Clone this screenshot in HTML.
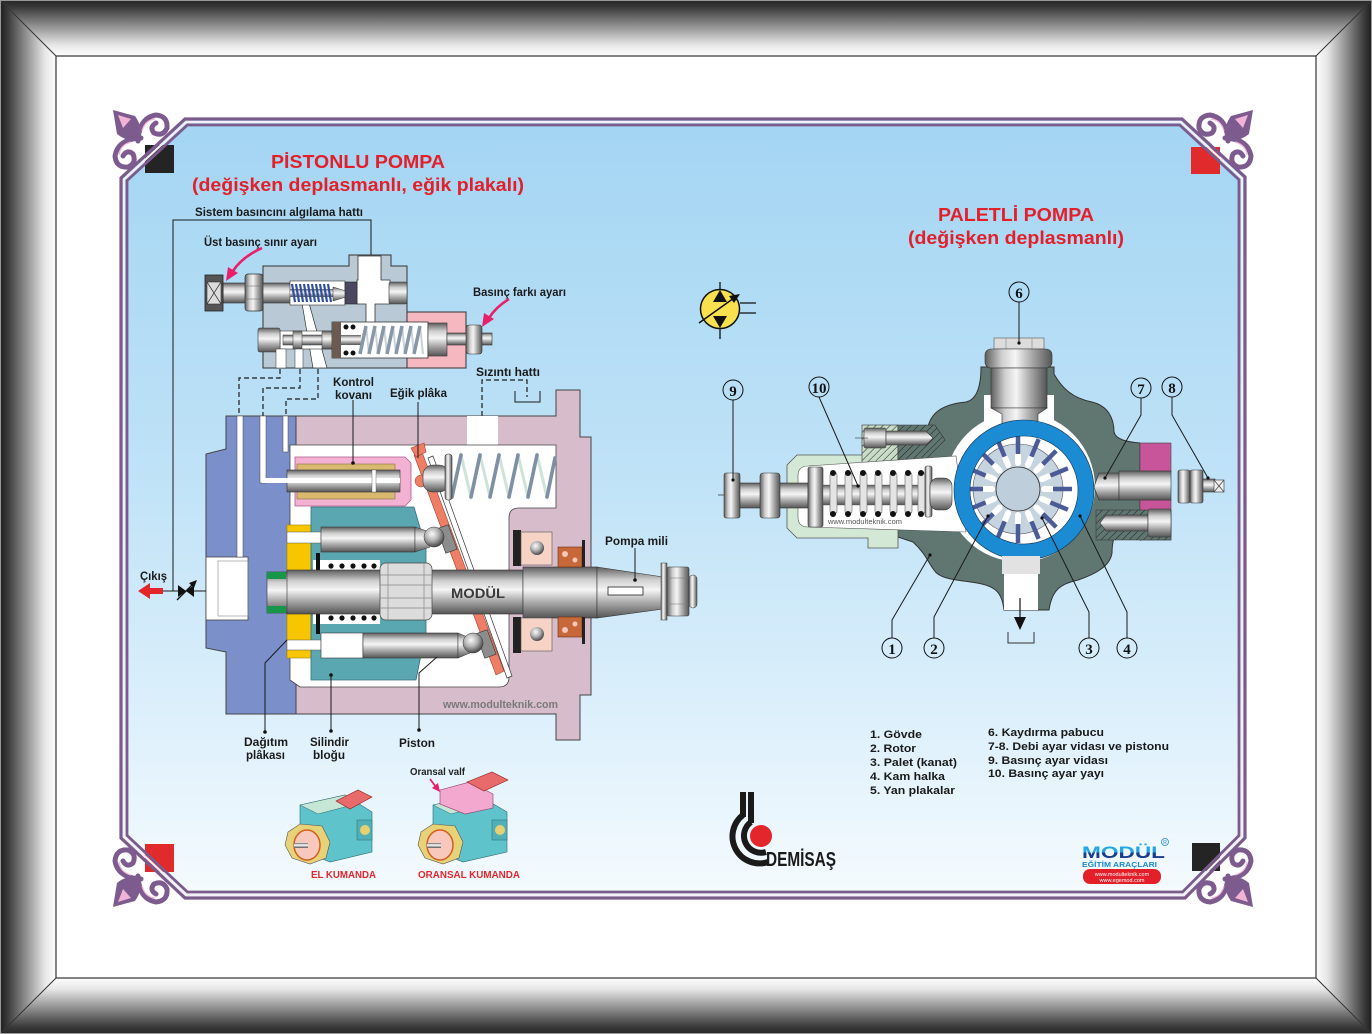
<!DOCTYPE html>
<html><head><meta charset="utf-8">
<style>
html,body{margin:0;padding:0;background:#fff;}
svg{display:block;}
text{font-family:"Liberation Sans",Arial,sans-serif;}
.lb{font-weight:bold;font-size:12px;fill:#1a1a1a;}
.lg{font-weight:bold;font-size:11px;fill:#1a1a1a;}
.num{font-family:"Liberation Serif",serif;font-weight:bold;font-size:15px;fill:#111;}
.ld{stroke:#1a1a1a;stroke-width:1;fill:none;}
.ds{stroke:#1a1a1a;stroke-width:1.2;fill:none;stroke-dasharray:5,3;}
</style></head><body>
<svg width="1372" height="1034" viewBox="0 0 1372 1034">
<defs>
<linearGradient id="gT" gradientUnits="userSpaceOnUse" x1="0" y1="0" x2="0" y2="56"><stop offset="0" stop-color="#262626"/><stop offset=".12" stop-color="#383838"/><stop offset=".45" stop-color="#8c8c8c"/><stop offset=".8" stop-color="#e6e6e6"/><stop offset="1" stop-color="#fdfdfd"/></linearGradient>
<linearGradient id="gB" gradientUnits="userSpaceOnUse" x1="0" y1="1034" x2="0" y2="978"><stop offset="0" stop-color="#262626"/><stop offset=".12" stop-color="#383838"/><stop offset=".45" stop-color="#8c8c8c"/><stop offset=".8" stop-color="#e6e6e6"/><stop offset="1" stop-color="#fdfdfd"/></linearGradient>
<linearGradient id="gL" gradientUnits="userSpaceOnUse" x1="0" y1="0" x2="56" y2="0"><stop offset="0" stop-color="#1e1e1e"/><stop offset=".12" stop-color="#363636"/><stop offset=".45" stop-color="#8c8c8c"/><stop offset=".8" stop-color="#e6e6e6"/><stop offset="1" stop-color="#fdfdfd"/></linearGradient>
<linearGradient id="gR" gradientUnits="userSpaceOnUse" x1="1372" y1="0" x2="1316" y2="0"><stop offset="0" stop-color="#1e1e1e"/><stop offset=".12" stop-color="#363636"/><stop offset=".45" stop-color="#8c8c8c"/><stop offset=".8" stop-color="#e6e6e6"/><stop offset="1" stop-color="#fdfdfd"/></linearGradient>
<linearGradient id="bg" gradientUnits="userSpaceOnUse" x1="0" y1="119" x2="0" y2="898"><stop offset="0" stop-color="#a3d5f3"/><stop offset=".45" stop-color="#bfe2f7"/><stop offset=".75" stop-color="#dbeffb"/><stop offset="1" stop-color="#f5fbfe"/></linearGradient>
<linearGradient id="mv" x1="0" y1="0" x2="0" y2="1"><stop offset="0" stop-color="#5e5e5e"/><stop offset=".25" stop-color="#cfcfcf"/><stop offset=".45" stop-color="#f5f5f5"/><stop offset=".7" stop-color="#a9a9a9"/><stop offset="1" stop-color="#555"/></linearGradient>
<linearGradient id="mh" x1="0" y1="0" x2="1" y2="0"><stop offset="0" stop-color="#5e5e5e"/><stop offset=".25" stop-color="#cfcfcf"/><stop offset=".45" stop-color="#f5f5f5"/><stop offset=".7" stop-color="#a9a9a9"/><stop offset="1" stop-color="#555"/></linearGradient>
<radialGradient id="ball" cx=".4" cy=".35" r=".65"><stop offset="0" stop-color="#fafafa"/><stop offset=".5" stop-color="#b5b5b5"/><stop offset="1" stop-color="#4a4a4a"/></radialGradient>
<linearGradient id="mlogo" x1="0" y1="0" x2="0" y2="1"><stop offset="0" stop-color="#22a6e6"/><stop offset=".5" stop-color="#22a6e6"/><stop offset=".5" stop-color="#1a3c8c"/><stop offset="1" stop-color="#1a3c8c"/></linearGradient>
<pattern id="hatch" width="5" height="5" patternUnits="userSpaceOnUse" patternTransform="rotate(45)"><line x1="0" y1="0" x2="0" y2="5" stroke="#222" stroke-width="1"/></pattern>
<g id="orn">
<path d="M113,110 L135,116 Q143,127 140,139 Q128,143 117,134 Z" fill="#7d5b8e"/>
<path d="M118,115 L131,119 L123,128 Z" fill="#f2b3d9"/>
<path d="M138,141 Q139,118 156,115 Q168,116 167,128 Q163,137 154,133 Q149,127 156,123" fill="none" stroke="#7d5b8e" stroke-width="5" stroke-linecap="round"/>
<path d="M141,138 Q118,139 115,156 Q116,168 128,167 Q137,163 133,154 Q127,149 123,156" fill="none" stroke="#7d5b8e" stroke-width="5" stroke-linecap="round"/>
<path d="M142,131 Q145,120 155,119" fill="none" stroke="#f2b3d9" stroke-width="1.2"/>
<path d="M131,142 Q120,145 119,155" fill="none" stroke="#f2b3d9" stroke-width="1.2"/>
</g>
<g id="vn"><line x1="26" y1="0" x2="34" y2="0" stroke="#fff" stroke-width="6" stroke-linecap="round"/><line x1="35" y1="0" x2="54" y2="0" stroke="#4b5b98" stroke-width="4.5"/></g>
</defs>

<!-- FRAME -->
<rect width="1372" height="1034" fill="#fff"/>
<polygon points="0,0 1372,0 1316,56 56,56" fill="url(#gT)"/>
<polygon points="0,1034 1372,1034 1316,978 56,978" fill="url(#gB)"/>
<polygon points="0,0 56,56 56,978 0,1034" fill="url(#gL)"/>
<polygon points="1372,0 1316,56 1316,978 1372,1034" fill="url(#gR)"/>
<path d="M0,0 L56,56 M1372,0 L1316,56 M0,1034 L56,978 M1372,1034 L1316,978" stroke="#333" stroke-width="1"/>
<rect x="56" y="56" width="1260" height="922" fill="#fff" stroke="#333" stroke-width="1.2"/>
<rect x="0.5" y="0.5" width="1371" height="1033" fill="none" stroke="#999" stroke-width="1"/>

<!-- PANEL -->
<polygon points="185,119 1182,119 1245,177 1245,838 1185,898 185,898 121,838 121,178" fill="url(#bg)"/>
<rect x="145" y="145" width="29" height="28" fill="#242424"/>
<rect x="1191" y="147" width="29" height="27" fill="#e12a2b"/>
<rect x="145" y="844" width="29" height="28" fill="#e12a2b"/>
<rect x="1192" y="843" width="28" height="28" fill="#242424"/>
<polygon points="185,119 1182,119 1245,177 1245,838 1185,898 185,898 121,838 121,178" fill="none" stroke="#7b5a8c" stroke-width="3.2"/>
<polygon points="186.2,122 1180.8,122 1242,178.4 1242,836.7 1183.7,895 186.2,895 124,836.7 124,179.3" fill="none" stroke="#f3f0f8" stroke-width="2.2"/>
<polygon points="187.4,125 1179.7,125 1239,179.7 1239,835.5 1182.5,892 187.4,892 127,835.4 127,180.6" fill="none" stroke="#7b5a8c" stroke-width="2.8"/>
<use href="#orn"/>
<use href="#orn" transform="translate(1366,0) scale(-1,1)"/>
<use href="#orn" transform="translate(0,1017) scale(1,-1)"/>
<use href="#orn" transform="translate(1366,1017) scale(-1,-1)"/>

<!-- TITLES -->
<text x="271" y="168" font-size="18.5" font-weight="bold" fill="#e3202a" textLength="174" lengthAdjust="spacingAndGlyphs">PİSTONLU POMPA</text>
<text x="192" y="191" font-size="18.5" font-weight="bold" fill="#e3202a" textLength="332" lengthAdjust="spacingAndGlyphs">(değişken deplasmanlı, eğik plakalı)</text>
<text x="938" y="221" font-size="18.5" font-weight="bold" fill="#e3202a" textLength="156" lengthAdjust="spacingAndGlyphs">PALETLİ POMPA</text>
<text x="908" y="244" font-size="18.5" font-weight="bold" fill="#e3202a" textLength="216" lengthAdjust="spacingAndGlyphs">(değişken deplasmanlı)</text>

<!-- ===== LEFT PUMP: control valve ===== -->
<text class="lb" x="195" y="216" textLength="168" lengthAdjust="spacingAndGlyphs">Sistem basıncını algılama hattı</text>
<text class="lb" x="204" y="246" textLength="113" lengthAdjust="spacingAndGlyphs">Üst basınç sınır ayarı</text>
<text class="lb" x="473" y="296" textLength="93" lengthAdjust="spacingAndGlyphs">Basınç farkı ayarı</text>
<path d="M173,591 V220 H371 V256" class="ld" stroke-width="1.3"/>

<path d="M263,266 H349 V255 H391 V266 H407 V312 H428 V368 H263 Z" fill="#b9cad6" stroke="#333" stroke-width="1"/>
<rect x="407" y="312" width="59" height="56" fill="#f5b7c0" stroke="#333" stroke-width="1"/>
<path d="M358,256 H381 V280 H390 V304 H375 V324 H366 V304 H357 V280 H358 Z" fill="#fff" stroke="#333" stroke-width=".8"/>
<polygon points="302,303 309,303 327,368 313,368" fill="#fff" stroke="#333" stroke-width=".7"/>
<rect x="223" y="283" width="112" height="20" fill="url(#mv)" stroke="#333" stroke-width=".6"/>
<rect x="290" y="281" width="55" height="24" fill="#fff" stroke="#333" stroke-width=".6"/>
<rect x="290" y="289" width="50" height="8" fill="url(#mv)"/>
<g stroke="#2f4f9e" stroke-width="2.2">
<line x1="292" y1="284" x2="295" y2="302"/><line x1="296" y1="284" x2="299" y2="302"/><line x1="300" y1="284" x2="303" y2="302"/><line x1="304" y1="284" x2="307" y2="302"/><line x1="308" y1="284" x2="311" y2="302"/><line x1="312" y1="284" x2="315" y2="302"/><line x1="316" y1="284" x2="319" y2="302"/><line x1="320" y1="284" x2="323" y2="302"/><line x1="324" y1="284" x2="327" y2="302"/><line x1="328" y1="284" x2="331" y2="302"/>
</g>
<polygon points="333,287 346,291 346,297 333,301" fill="url(#mv)" stroke="#333" stroke-width=".5"/>
<rect x="345" y="282" width="12" height="22" fill="#4a4860" stroke="#222" stroke-width=".6"/>
<rect x="389" y="282" width="18" height="22" rx="2" fill="url(#mv)" stroke="#333" stroke-width=".6"/>
<rect x="205" y="275" width="18" height="36" fill="#555" stroke="#222" stroke-width=".8"/>
<rect x="207" y="282" width="14" height="22" fill="#ddd" stroke="#333" stroke-width=".6"/>
<path d="M207,282 L221,304 M221,282 L207,304" stroke="#333" stroke-width=".7"/>
<rect x="245" y="274" width="18" height="37" rx="3" fill="url(#mh)" stroke="#333" stroke-width=".7"/>
<path d="M245,286 H263 M245,299 H263" stroke="#666" stroke-width=".6"/>
<!-- lower bore -->
<rect x="280" y="331" width="55" height="18" fill="#fff" stroke="#333" stroke-width=".6"/>
<rect x="258" y="328" width="22" height="24" rx="2" fill="url(#mv)" stroke="#333" stroke-width=".6"/>
<rect x="283" y="335" width="50" height="10" fill="url(#mv)" stroke="#333" stroke-width=".5"/>
<rect x="293" y="331" width="9" height="18" fill="url(#mv)" stroke="#333" stroke-width=".5"/>
<rect x="322" y="331" width="11" height="18" fill="url(#mv)" stroke="#333" stroke-width=".5"/>
<rect x="276" y="349" width="10" height="19" fill="#fff" stroke="#333" stroke-width=".5"/>
<rect x="295" y="349" width="8" height="19" fill="#fff" stroke="#333" stroke-width=".5"/>
<rect x="332" y="322" width="96" height="36" fill="#fff" stroke="#333" stroke-width=".8"/>
<rect x="332" y="322" width="9" height="36" fill="#6a5a50"/>
<rect x="341" y="335" width="20" height="10" fill="url(#mv)"/>
<g fill="#111"><circle cx="346" cy="327" r="2.5"/><circle cx="353" cy="327" r="2.5"/><circle cx="346" cy="353" r="2.5"/><circle cx="353" cy="353" r="2.5"/></g>
<g stroke="#c9d2da" stroke-width="2"><line x1="366" y1="326" x2="369" y2="354"/><line x1="375" y1="326" x2="378" y2="354"/><line x1="384" y1="326" x2="387" y2="354"/><line x1="393" y1="326" x2="396" y2="354"/><line x1="402" y1="326" x2="405" y2="354"/><line x1="411" y1="326" x2="414" y2="354"/><line x1="420" y1="326" x2="423" y2="354"/></g>
<g stroke="#8797a8" stroke-width="3.5"><line x1="360" y1="354" x2="366" y2="326"/><line x1="369" y1="354" x2="375" y2="326"/><line x1="378" y1="354" x2="384" y2="326"/><line x1="387" y1="354" x2="393" y2="326"/><line x1="396" y1="354" x2="402" y2="326"/><line x1="405" y1="354" x2="411" y2="326"/><line x1="414" y1="354" x2="420" y2="326"/></g>
<rect x="428" y="323" width="19" height="33" fill="url(#mv)" stroke="#333" stroke-width=".6"/>
<rect x="447" y="333" width="45" height="12" fill="url(#mv)" stroke="#333" stroke-width=".6"/>
<rect x="466" y="325" width="16" height="29" rx="3" fill="url(#mh)" stroke="#333" stroke-width=".6"/>
<!-- red arrows -->
<path d="M262,248 Q242,257 233,271" fill="none" stroke="#e8206a" stroke-width="2.6"/>
<polygon points="226,281 228,267 238,273" fill="#e8206a"/>
<path d="M509,299 Q496,307 489,318" fill="none" stroke="#e8206a" stroke-width="2.6"/>
<polygon points="482,327 484,313 494,319" fill="#e8206a"/>

<!-- dashed lines -->
<path class="ds" d="M280,369 V378 H239 V416"/>
<path class="ds" d="M300,369 V388 H263 V416"/>
<path class="ds" d="M318,369 V399 H286 V416"/>
<path class="ds" d="M482,416 V380 H527 V397"/>
<path d="M515,391 V402 H540 V391" class="ld" stroke-width="1.2"/>
<text class="lb" x="333" y="386" textLength="41" lengthAdjust="spacingAndGlyphs">Kontrol</text>
<text class="lb" x="335" y="399" textLength="37" lengthAdjust="spacingAndGlyphs">kovanı</text>
<text class="lb" x="390" y="397" textLength="57" lengthAdjust="spacingAndGlyphs">Eğik plâka</text>
<text class="lb" x="476" y="376" textLength="64" lengthAdjust="spacingAndGlyphs">Sızıntı hattı</text>

<!-- ===== LEFT PUMP body ===== -->
<path d="M296,416 H556 V390 H580 V437 H591 V695 H580 V740 H556 V714 H296 Z" fill="#d7bccb" stroke="#444" stroke-width="1"/>
<path d="M226,416 H296 V714 H226 V652 L206,648 V454 L226,449 Z" fill="#7b8fca" stroke="#444" stroke-width="1"/>
<rect x="206" y="557" width="42" height="63" fill="#fff" stroke="#444" stroke-width=".8"/>
<rect x="218" y="561" width="30" height="55" fill="none" stroke="#888" stroke-width=".6"/>
<rect x="237" y="416" width="6" height="141" fill="#fff" stroke="#444" stroke-width=".5"/>
<rect x="260" y="416" width="6" height="67" fill="#fff" stroke="#444" stroke-width=".5"/>
<rect x="283" y="416" width="5" height="36" fill="#fff" stroke="#444" stroke-width=".5"/>
<rect x="467" y="416" width="31" height="30" fill="#fff"/>
<path d="M290,445 H556 V508 H519 Q509,508 509,518 V677 Q509,687 499,687 H300 L290,680 Z" fill="#fff" stroke="#444" stroke-width=".8"/>
<!-- sleeve -->
<path d="M295,457 H405 L411,463 V500 L405,506 H295 Z" fill="#f3b2d3" stroke="#b05a8a" stroke-width=".8"/>
<rect x="297" y="464" width="98" height="35" fill="#d8b96e" stroke="#8a7040" stroke-width=".6"/>
<rect x="287" y="470" width="113" height="22" fill="url(#mv)" stroke="#333" stroke-width=".6"/>
<rect x="262" y="478" width="138" height="5" fill="#fff"/>
<rect x="372" y="470" width="4" height="22" fill="#fff" stroke="#555" stroke-width=".4"/>
<line x1="353" y1="400" x2="353" y2="463" class="ld"/><circle cx="353" cy="463" r="1.8" fill="#111"/>
<!-- yellow plate & cylinder block -->
<rect x="287" y="525" width="24" height="133" fill="#f7c600" stroke="#a08000" stroke-width=".6"/>
<path d="M311,507 H414 L426,548 V632 L420,660 L416,680 H311 Z" fill="#5aa7b1" stroke="#356f78" stroke-width=".8"/>
<rect x="287" y="532" width="34" height="11" fill="#fff" stroke="#555" stroke-width=".5"/>
<rect x="287" y="640" width="34" height="10" fill="#fff" stroke="#555" stroke-width=".5"/>
<!-- swash plate -->
<polygon points="428,458 433,456 512,676 507,678" fill="#fff" stroke="#333" stroke-width=".7"/>
<polygon points="414,455 422,452 504,671 496,675" fill="#ee7f66" stroke="#a04030" stroke-width=".6"/>
<path d="M411,448 L424,443 L426,452 L416,457 Z" fill="#ee7f66" stroke="#a04030" stroke-width=".6"/>
<circle cx="421" cy="481" r="6" fill="#ee7f66" stroke="#a04030" stroke-width=".5"/>
<line x1="418" y1="402" x2="418" y2="458" class="ld"/>
<!-- spring top right -->
<g stroke="#cfe3d8" stroke-width="3"><line x1="461" y1="455" x2="471" y2="497"/><line x1="480" y1="455" x2="490" y2="497"/><line x1="499" y1="455" x2="509" y2="497"/><line x1="518" y1="455" x2="528" y2="497"/><line x1="537" y1="455" x2="547" y2="497"/></g>
<g stroke="#7e90a4" stroke-width="3.6" stroke-linecap="round"><line x1="452" y1="497" x2="461" y2="455"/><line x1="471" y1="497" x2="480" y2="455"/><line x1="490" y1="497" x2="499" y2="455"/><line x1="509" y1="497" x2="518" y2="455"/><line x1="528" y1="497" x2="537" y2="455"/><line x1="547" y1="497" x2="555" y2="458"/></g>
<rect x="423" y="465" width="26" height="27" rx="10" fill="url(#mv)" stroke="#333" stroke-width=".6"/>
<rect x="445" y="454" width="7" height="46" rx="3" fill="url(#mh)" stroke="#333" stroke-width=".6"/>
<!-- pistons -->
<rect x="321" y="527" width="94" height="25" fill="url(#mv)" stroke="#333" stroke-width=".6"/>
<polygon points="415,527 430,532 430,547 415,552" fill="url(#mv)" stroke="#333" stroke-width=".5"/>
<rect x="321" y="633" width="42" height="25" fill="#fff" stroke="#333" stroke-width=".6"/>
<rect x="363" y="633" width="95" height="25" fill="url(#mv)" stroke="#333" stroke-width=".6"/>
<polygon points="458,633 470,638 470,653 458,658" fill="url(#mv)" stroke="#333" stroke-width=".5"/>
<rect x="441" y="526" width="12" height="26" transform="rotate(-20 447 539)" fill="#8c8c8c" stroke="#333" stroke-width=".6"/>
<rect x="480" y="631" width="12" height="26" transform="rotate(-20 486 644)" fill="#8c8c8c" stroke="#333" stroke-width=".6"/>
<circle cx="434" cy="537" r="10" fill="url(#ball)" stroke="#333" stroke-width=".5"/>
<circle cx="473" cy="643" r="10" fill="url(#ball)" stroke="#333" stroke-width=".5"/>
<!-- shaft -->
<rect x="313" y="560" width="67" height="11" fill="#fff"/>
<rect x="313" y="613" width="67" height="11" fill="#fff"/>
<rect x="316" y="553" width="4" height="19" fill="#111"/>
<rect x="316" y="613" width="4" height="21" fill="#111"/>
<g fill="#111"><circle cx="331" cy="566" r="2.6"/><circle cx="342" cy="566" r="2.6"/><circle cx="353" cy="566" r="2.6"/><circle cx="364" cy="566" r="2.6"/><circle cx="374" cy="566" r="2.6"/><circle cx="331" cy="618" r="2.6"/><circle cx="342" cy="618" r="2.6"/><circle cx="353" cy="618" r="2.6"/><circle cx="364" cy="618" r="2.6"/><circle cx="374" cy="618" r="2.6"/></g>
<rect x="267" y="572" width="22" height="41" fill="url(#mv)" stroke="#333" stroke-width=".6"/>
<rect x="267" y="572" width="19" height="7" fill="#17964a"/>
<rect x="267" y="606" width="19" height="7" fill="#17964a"/>
<rect x="287" y="570" width="236" height="44" fill="url(#mv)" stroke="#333" stroke-width=".6"/>
<rect x="523" y="567" width="74" height="51" fill="url(#mv)" stroke="#333" stroke-width=".6"/>
<polygon points="597,567 663,577 663,609 597,618" fill="url(#mv)" stroke="#333" stroke-width=".6"/>
<rect x="661" y="563" width="6" height="57" fill="url(#mh)" stroke="#333" stroke-width=".5"/>
<rect x="667" y="567" width="22" height="49" rx="2" fill="url(#mh)" stroke="#333" stroke-width=".6"/>
<path d="M667,578 H689 M667,604 H689" stroke="#777" stroke-width=".6"/>
<rect x="689" y="575" width="8" height="33" rx="4" fill="url(#mh)" stroke="#333" stroke-width=".5"/>
<rect x="380" y="563" width="52" height="57" rx="6" fill="#dcdcdc" stroke="#444" stroke-width=".7"/>
<path d="M380,575 H432 M380,585 H432 M380,598 H432 M380,608 H432 M388,563 V620 M424,563 V620" stroke="#888" stroke-width=".7"/>
<text x="451" y="598" font-family="Liberation Serif,serif" font-weight="bold" font-size="14" fill="#3a3a3a" textLength="54" lengthAdjust="spacingAndGlyphs">MODÜL</text>
<!-- bearings -->
<rect x="513" y="530" width="8" height="36" fill="#222"/>
<rect x="513" y="617" width="8" height="36" fill="#222"/>
<rect x="521" y="532" width="31" height="33" fill="#f7d3c6" stroke="#555" stroke-width=".6"/>
<rect x="521" y="618" width="31" height="33" fill="#f7d3c6" stroke="#555" stroke-width=".6"/>
<circle cx="537" cy="548" r="7" fill="url(#ball)"/>
<circle cx="537" cy="634" r="7" fill="url(#ball)"/>
<rect x="558" y="547" width="24" height="20" fill="#c7683a" stroke="#6a3010" stroke-width=".6"/>
<rect x="558" y="617" width="24" height="20" fill="#c7683a" stroke="#6a3010" stroke-width=".6"/>
<g fill="#f5c8b8"><circle cx="565" cy="554" r="3"/><circle cx="575" cy="560" r="2.5"/><circle cx="565" cy="630" r="3"/><circle cx="575" cy="624" r="2.5"/></g>
<rect x="582" y="540" width="3" height="27" fill="#222"/>
<rect x="582" y="617" width="3" height="27" fill="#222"/>
<rect x="608" y="587" width="35" height="8" fill="#fff" stroke="#222" stroke-width=".8"/>
<line x1="635" y1="548" x2="635" y2="580" class="ld"/><circle cx="635" cy="580" r="1.8" fill="#111"/>
<text class="lb" x="605" y="545" textLength="63" lengthAdjust="spacingAndGlyphs">Pompa mili</text>
<text x="443" y="708" font-family="Liberation Serif,serif" font-weight="bold" font-size="11" fill="#7a7a7a" textLength="115" lengthAdjust="spacingAndGlyphs">www.modulteknik.com</text>
<!-- outlet -->
<polygon points="138,591 150,583 150,588 163,588 163,594 150,594 150,599" fill="#e3262b"/>
<line x1="163" y1="591" x2="206" y2="591" class="ld" stroke-width="1.2"/>
<polygon points="178,585 186,591 178,597" fill="#111"/>
<polygon points="194,585 186,591 194,597" fill="#111"/>
<line x1="177" y1="600" x2="194" y2="583" stroke="#111" stroke-width="1.3"/>
<polygon points="197,580 189,583 194,588" fill="#111"/>
<text class="lb" x="140" y="580" textLength="27" lengthAdjust="spacingAndGlyphs">Çıkış</text>
<!-- bottom leaders -->
<path class="ld" d="M265,732 V663 L287,640"/><circle cx="265" cy="732" r="1.8" fill="#111"/>
<path class="ld" d="M331,731 V675"/><circle cx="331" cy="731" r="1.8" fill="#111"/><circle cx="331" cy="675" r="1.8" fill="#111"/>
<path class="ld" d="M419,730 V673 L437,657"/><circle cx="419" cy="730" r="1.8" fill="#111"/>
<text class="lb" x="244" y="746" textLength="44" lengthAdjust="spacingAndGlyphs">Dağıtım</text>
<text class="lb" x="246" y="759" textLength="39" lengthAdjust="spacingAndGlyphs">plâkası</text>
<text class="lb" x="310" y="746" textLength="39" lengthAdjust="spacingAndGlyphs">Silindir</text>
<text class="lb" x="313" y="759" textLength="32" lengthAdjust="spacingAndGlyphs">bloğu</text>
<text class="lb" x="399" y="747" textLength="36" lengthAdjust="spacingAndGlyphs">Piston</text>

<!-- small pumps -->
<text x="410" y="775" font-size="10" font-weight="bold" fill="#222" textLength="55" lengthAdjust="spacingAndGlyphs">Oransal valf</text>
<line x1="430" y1="779" x2="436" y2="787" stroke="#e8206a" stroke-width="1.8"/>
<polygon points="440,792 432,788 438,783" fill="#e8206a"/>
<g>
<polygon points="300,805 345,795 372,812 372,852 330,862 300,850" fill="#5ec3cb" stroke="#2a6a70" stroke-width=".6"/>
<polygon points="300,805 345,795 360,803 318,814" fill="#c6e6d6" stroke="#2a6a70" stroke-width=".5"/>
<rect x="357" y="820" width="15" height="20" fill="#4fb0b8" stroke="#2a6a70" stroke-width=".5"/>
<circle cx="365" cy="830" r="5" fill="#e8d070"/>
<polygon points="288,832 300,824 322,826 330,842 326,858 310,864 292,858 285,845" fill="#e8d277" stroke="#555" stroke-width=".6"/>
<ellipse cx="307" cy="845" rx="13" ry="15" fill="#f8c8bc" stroke="#d06020" stroke-width="1.5"/>
<rect x="294" y="843" width="14" height="5" fill="url(#mv)"/>
<polygon points="336,801 358,790 372,797 350,809" fill="#e96a6a" stroke="#8a2020" stroke-width=".6"/>
</g>
<g>
<polygon points="433,805 478,795 507,812 507,852 463,862 433,850" fill="#5ec3cb" stroke="#2a6a70" stroke-width=".6"/>
<polygon points="433,805 478,795 493,803 451,814" fill="#c6e6d6" stroke="#2a6a70" stroke-width=".5"/>
<rect x="492" y="820" width="15" height="20" fill="#4fb0b8" stroke="#2a6a70" stroke-width=".5"/>
<circle cx="500" cy="830" r="5" fill="#e8d070"/>
<polygon points="421,832 433,824 455,826 463,842 459,858 443,864 425,858 418,845" fill="#e8d277" stroke="#555" stroke-width=".6"/>
<ellipse cx="440" cy="845" rx="13" ry="15" fill="#f8c8bc" stroke="#d06020" stroke-width="1.5"/>
<rect x="427" y="843" width="14" height="5" fill="url(#mv)"/>
<polygon points="440,790 470,782 493,794 493,808 465,814 440,804" fill="#f3a8cf" stroke="#8a3a6a" stroke-width=".6"/>
<polygon points="467,782 492,772 508,780 484,791" fill="#e96a6a" stroke="#8a2020" stroke-width=".6"/>
</g>
<text x="311" y="878" font-size="10.5" font-weight="bold" fill="#e3262b" textLength="65" lengthAdjust="spacingAndGlyphs">EL KUMANDA</text>
<text x="418" y="878" font-size="10.5" font-weight="bold" fill="#e3262b" textLength="102" lengthAdjust="spacingAndGlyphs">ORANSAL KUMANDA</text>

<!-- ===== RIGHT PUMP ===== -->
<line x1="720" y1="282" x2="720" y2="339" stroke="#111" stroke-width="1.3"/>
<circle cx="720" cy="309" r="19.5" fill="#f8e04e" stroke="#111" stroke-width="1.5"/>
<polygon points="720,290 713,302 727,302" fill="#111"/>
<polygon points="720,328 713,316 727,316" fill="#111"/>
<line x1="699" y1="323" x2="734" y2="298" stroke="#111" stroke-width="1.5"/>
<polygon points="740,294 729,296 734,303" fill="#111"/>
<path d="M740,303 H756 M740,313 H756" stroke="#111" stroke-width="1.3"/>

<path d="M981,367 H1054 V374 C1062,388 1072,398 1092,402 C1108,406 1114,418 1114,432 C1116,440 1128,442 1140,443 V540 L1122,523 C1114,530 1112,545 1112,553 C1110,566 1096,574 1078,580 C1060,584 1052,590 1049,610 H1004 C1002,592 995,586 977,583 C960,580 940,580 934,570 C928,562 925,553 913,542 L898,537 V455 L927,430 C930,418 935,405 966,402 C975,400 981,390 981,367 Z" fill="#5f7671" stroke="#333" stroke-width="1"/>
<path d="M797,455 H898 V548 H868 V538 H797 L787,528 V465 Z" fill="#d4e8d6" stroke="#555" stroke-width=".8"/>
<rect x="862" y="425" width="36" height="40" fill="#c8dcc8"/>
<rect x="862" y="425" width="36" height="40" fill="url(#hatch)" stroke="#333" stroke-width=".6"/>
<polygon points="898,425 935,425 945,440 920,465 898,465" fill="#5f7671"/>
<polygon points="898,425 935,425 945,440 920,465 898,465" fill="url(#hatch)" stroke="#333" stroke-width=".6"/>
<rect x="864" y="428" width="22" height="20" rx="2" fill="url(#mv)" stroke="#333" stroke-width=".6"/>
<polygon points="886,431 926,431 933,438 926,445 886,445" fill="url(#mv)" stroke="#333" stroke-width=".6"/>
<line x1="855" y1="438" x2="868" y2="438" stroke="#333" stroke-width=".6"/>
<rect x="984" y="395" width="70" height="30" fill="#fff"/>
<circle cx="1020" cy="487" r="75" fill="#fff"/>
<path d="M808,466 L956,456 L966,532 L808,527 Q798,527 798,517 V476 Q798,466 808,466 Z" fill="#fff" stroke="#555" stroke-width=".6"/>
<!-- left adjust assembly -->
<line x1="718" y1="495" x2="810" y2="495" stroke="#333" stroke-width=".7"/>
<rect x="724" y="473" width="16" height="45" rx="2" fill="url(#mh)" stroke="#333" stroke-width=".6"/>
<rect x="740" y="483" width="68" height="25" fill="url(#mv)" stroke="#333" stroke-width=".6"/>
<rect x="760" y="473" width="20" height="45" rx="3" fill="url(#mh)" stroke="#333" stroke-width=".6"/>
<rect x="808" y="467" width="15" height="60" rx="2" fill="url(#mh)" stroke="#333" stroke-width=".6"/>
<rect x="823" y="485" width="104" height="20" fill="url(#mv)" stroke="#555" stroke-width=".4"/>
<g stroke="#666" stroke-width=".6" fill="#e4e4e4">
<rect x="830" y="472" width="7" height="42" rx="3"/><rect x="845" y="472" width="7" height="42" rx="3"/><rect x="860" y="472" width="7" height="42" rx="3"/><rect x="875" y="472" width="7" height="42" rx="3"/><rect x="890" y="472" width="7" height="42" rx="3"/><rect x="905" y="472" width="7" height="42" rx="3"/><rect x="918" y="472" width="7" height="42" rx="3"/>
</g>
<g fill="#111"><circle cx="833" cy="473" r="3"/><circle cx="848" cy="473" r="3"/><circle cx="863" cy="473" r="3"/><circle cx="878" cy="473" r="3"/><circle cx="893" cy="473" r="3"/><circle cx="908" cy="473" r="3"/><circle cx="921" cy="473" r="3"/><circle cx="833" cy="514" r="3"/><circle cx="848" cy="514" r="3"/><circle cx="863" cy="514" r="3"/><circle cx="878" cy="514" r="3"/><circle cx="893" cy="514" r="3"/><circle cx="908" cy="514" r="3"/><circle cx="921" cy="514" r="3"/></g>
<rect x="925" y="466" width="7" height="51" rx="2" fill="url(#mh)" stroke="#333" stroke-width=".6"/>
<rect x="930" y="478" width="22" height="32" rx="8" fill="url(#mv)" stroke="#333" stroke-width=".6"/>
<text x="828" y="524" font-family="Liberation Serif,serif" font-size="7" fill="#555" textLength="74" lengthAdjust="spacingAndGlyphs">www.modulteknik.com</text>
<!-- shoe column -->
<rect x="994" y="338" width="50" height="11" fill="#dcdcdc" stroke="#555" stroke-width=".6"/>
<path d="M1006,338 V349 M1032,338 V349" stroke="#888" stroke-width=".6"/>
<rect x="985" y="349" width="67" height="19" rx="6" fill="url(#mh)" stroke="#333" stroke-width=".6"/>
<rect x="991" y="368" width="56" height="40" fill="url(#mh)" stroke="#333" stroke-width=".6"/>
<polygon points="991,408 1047,408 1038,414 1038,424 1002,424 1002,414" fill="url(#mh)" stroke="#333" stroke-width=".6"/>
<!-- rotor and ring -->
<circle cx="1024" cy="490" r="55" fill="#fff"/>
<g transform="translate(1018,489)">
<circle r="45" fill="#c5d4df" stroke="#556" stroke-width=".6"/>
<use href="#vn"/><use href="#vn" transform="rotate(22.5)"/><use href="#vn" transform="rotate(45)"/><use href="#vn" transform="rotate(67.5)"/><use href="#vn" transform="rotate(90)"/><use href="#vn" transform="rotate(112.5)"/><use href="#vn" transform="rotate(135)"/><use href="#vn" transform="rotate(157.5)"/><use href="#vn" transform="rotate(180)"/><use href="#vn" transform="rotate(202.5)"/><use href="#vn" transform="rotate(225)"/><use href="#vn" transform="rotate(247.5)"/><use href="#vn" transform="rotate(270)"/><use href="#vn" transform="rotate(292.5)"/><use href="#vn" transform="rotate(315)"/><use href="#vn" transform="rotate(337.5)"/>
<circle r="22" fill="#bfcedb" stroke="#333" stroke-width=".8"/>
</g>
<circle cx="1024" cy="490" r="62" fill="none" stroke="#1b8bd3" stroke-width="16"/>
<circle cx="1024" cy="490" r="70" fill="none" stroke="#135" stroke-width=".6"/>
<circle cx="1024" cy="490" r="54" fill="none" stroke="#135" stroke-width=".6"/>
<!-- right assembly -->
<rect x="1140" y="443" width="31" height="29" fill="#c8559a" stroke="#444" stroke-width=".6"/>
<rect x="1140" y="500" width="31" height="40" fill="#c8559a" stroke="#444" stroke-width=".6"/>
<rect x="1096" y="510" width="75" height="30" fill="#5f7671"/>
<rect x="1096" y="510" width="75" height="30" fill="url(#hatch)" stroke="#333" stroke-width=".5"/>
<polygon points="1100,523 1106,515 1148,515 1148,531 1106,531" fill="url(#mv)" stroke="#333" stroke-width=".6"/>
<rect x="1148" y="509" width="23" height="28" rx="2" fill="url(#mv)" stroke="#333" stroke-width=".6"/>
<polygon points="1094,487 1099,473 1119,473 1119,500 1099,500" fill="url(#mv)" stroke="#333" stroke-width=".6"/>
<rect x="1119" y="471" width="52" height="29" fill="url(#mv)" stroke="#333" stroke-width=".6"/>
<rect x="1178" y="470" width="12" height="33" rx="2" fill="url(#mh)" stroke="#333" stroke-width=".6"/>
<rect x="1190" y="470" width="13" height="33" rx="2" fill="url(#mh)" stroke="#333" stroke-width=".6"/>
<rect x="1203" y="479" width="12" height="13" fill="url(#mv)" stroke="#333" stroke-width=".6"/>
<rect x="1214" y="480" width="10" height="12" fill="#eee" stroke="#333" stroke-width=".6"/>
<path d="M1214,480 L1224,492 M1224,480 L1214,492" stroke="#333" stroke-width=".6"/>
<!-- outlet -->
<rect x="1004" y="560" width="34" height="50" fill="#fff"/>
<rect x="1002" y="556" width="38" height="18" fill="#e2e2e2"/>
<line x1="1020" y1="598" x2="1020" y2="620" stroke="#111" stroke-width="1.2"/>
<polygon points="1014,617 1026,617 1020,630" fill="#111"/>
<path d="M1008,632 V643 H1034 V632" stroke="#333" stroke-width="1" fill="none"/>
<!-- number labels -->
<g fill="none" stroke="#111" stroke-width="1">
<circle cx="1019" cy="292" r="10"/><circle cx="733" cy="390" r="10"/><circle cx="819" cy="387" r="10"/><circle cx="1141" cy="388" r="10"/><circle cx="1172" cy="387" r="10"/>
<circle cx="892" cy="648" r="10"/><circle cx="934" cy="648" r="10"/><circle cx="1089" cy="648" r="10"/><circle cx="1127" cy="648" r="10"/>
</g>
<g text-anchor="middle">
<text class="num" x="1019" y="298">6</text><text class="num" x="733" y="396">9</text><text class="num" x="819" y="393" font-size="13">10</text><text class="num" x="1141" y="394">7</text><text class="num" x="1172" y="393">8</text>
<text class="num" x="892" y="654">1</text><text class="num" x="934" y="654">2</text><text class="num" x="1089" y="654">3</text><text class="num" x="1127" y="654">4</text>
</g>
<g class="ld" stroke-width=".8">
<path d="M1019,302 V343"/><path d="M733,400 V480"/><path d="M819,397 L858,486"/>
<path d="M1141,398 V415 L1105,478"/><path d="M1172,397 V415 L1208,478"/>
<path d="M892,638 V620 L930,555"/><path d="M934,638 V617 L988,516"/><path d="M1089,638 V612 L1042,518"/><path d="M1127,638 V612 L1080,516"/>
</g>
<g fill="#111"><circle cx="1019" cy="343" r="1.6"/><circle cx="733" cy="480" r="1.6"/><circle cx="858" cy="486" r="1.6"/><circle cx="1105" cy="478" r="1.6"/><circle cx="1208" cy="478" r="1.6"/><circle cx="930" cy="555" r="1.6"/><circle cx="988" cy="516" r="1.6"/><circle cx="1042" cy="518" r="1.6"/><circle cx="1080" cy="516" r="1.6"/></g>

<!-- legend -->
<text class="lg" x="870" y="738" textLength="52" lengthAdjust="spacingAndGlyphs">1. Gövde</text>
<text class="lg" x="870" y="752" textLength="46" lengthAdjust="spacingAndGlyphs">2. Rotor</text>
<text class="lg" x="870" y="766" textLength="87" lengthAdjust="spacingAndGlyphs">3. Palet (kanat)</text>
<text class="lg" x="870" y="780" textLength="75" lengthAdjust="spacingAndGlyphs">4. Kam halka</text>
<text class="lg" x="870" y="794" textLength="85" lengthAdjust="spacingAndGlyphs">5. Yan plakalar</text>
<text class="lg" x="988" y="736" textLength="116" lengthAdjust="spacingAndGlyphs">6. Kaydırma pabucu</text>
<text class="lg" x="988" y="750" textLength="181" lengthAdjust="spacingAndGlyphs">7-8. Debi ayar vidası ve pistonu</text>
<text class="lg" x="988" y="764" textLength="120" lengthAdjust="spacingAndGlyphs">9. Basınç ayar vidası</text>
<text class="lg" x="988" y="777" textLength="116" lengthAdjust="spacingAndGlyphs">10. Basınç ayar yayı</text>

<!-- DEMISAS logo -->
<rect x="740" y="792" width="6" height="25" fill="#1a1a1a"/>
<rect x="748" y="792" width="6" height="31" fill="#1a1a1a"/>
<path d="M743,815 A27,27 0 0,0 768,862" fill="none" stroke="#1a1a1a" stroke-width="6"/>
<path d="M751,822 A17,17 0 0,0 766,852" fill="none" stroke="#1a1a1a" stroke-width="6"/>
<circle cx="761" cy="836" r="11" fill="#e3262b"/>
<text x="766" y="866" font-family="Liberation Sans Narrow,Liberation Sans,sans-serif" font-size="20" font-weight="bold" fill="#1a1a1a" textLength="70" lengthAdjust="spacingAndGlyphs">DEMİSAŞ</text>

<!-- MODUL logo -->
<text x="1082" y="858" font-size="17" font-weight="900" fill="url(#mlogo)" textLength="83" lengthAdjust="spacingAndGlyphs">MODÜL</text>
<circle cx="1165" cy="842" r="3.5" fill="none" stroke="#1a8ad0" stroke-width=".8"/>
<text x="1163.3" y="844" font-size="5" fill="#1a8ad0">R</text>
<text x="1082" y="867" font-size="7" font-weight="bold" fill="#1a8ad0" textLength="75" lengthAdjust="spacingAndGlyphs">EĞİTİM ARAÇLARI</text>
<rect x="1083" y="869" width="78" height="15" rx="7" fill="#e3202a"/>
<text x="1122" y="876" font-size="5.5" fill="#fff" text-anchor="middle">www.modulteknik.com</text>
<text x="1122" y="882" font-size="5.5" fill="#fff" text-anchor="middle">www.egemod.com</text>
</svg>
</body></html>
